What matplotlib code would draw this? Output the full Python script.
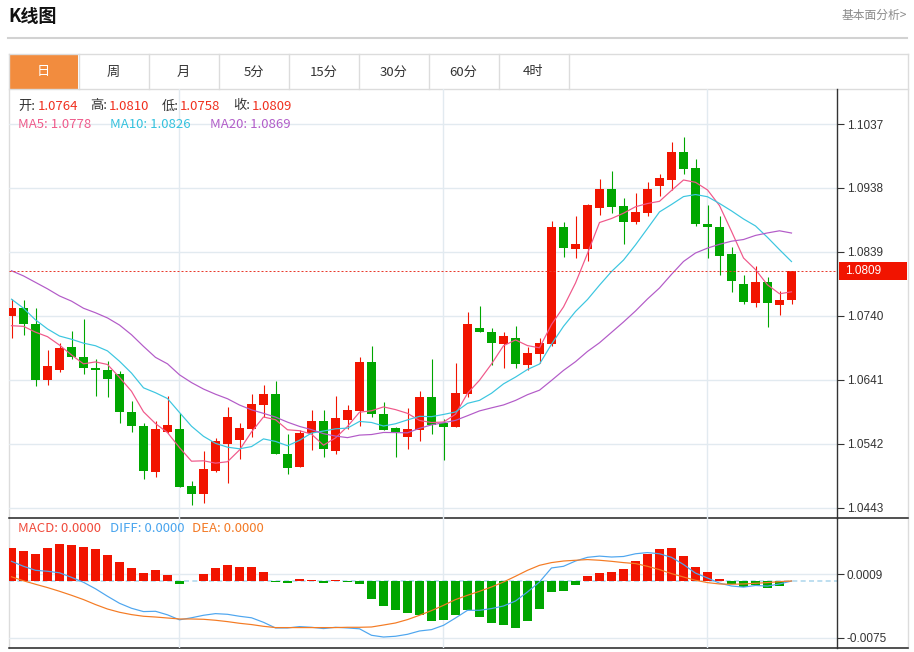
import matplotlib
matplotlib.use('Agg')
import matplotlib.pyplot as plt
import numpy as np
import pandas as pd
from matplotlib.patches import Rectangle

plt.rcParams['font.family'] = ['Noto Sans CJK SC', 'DejaVu Sans']

# ---------------- data ----------------
opens = [1.0740, 1.0752, 1.0727, 1.0641, 1.0656, 1.0692, 1.0677, 1.0660, 1.0657, 1.0650,
         1.0592, 1.0570, 1.0499, 1.0561, 1.0565, 1.0477, 1.0465, 1.0501, 1.0542, 1.0548,
         1.0565, 1.0603, 1.0619, 1.0526, 1.0506, 1.0559, 1.0577, 1.0531, 1.0579, 1.0593,
         1.0669, 1.0589, 1.0566, 1.0553, 1.0563, 1.0614, 1.0574, 1.0568, 1.0620, 1.0721,
         1.0715, 1.0697, 1.0706, 1.0664, 1.0681, 1.0697, 1.0878, 1.0844, 1.0844, 1.0907,
         1.0936, 1.0910, 1.0886, 1.0899, 1.0941, 1.0951, 1.0993, 1.0969, 1.0883, 1.0877,
         1.0836, 1.0790, 1.0760, 1.0793, 1.0757, 1.0764]
highs = [1.0766, 1.0765, 1.0752, 1.0687, 1.0698, 1.0717, 1.0736, 1.0673, 1.0671, 1.0655,
         1.0609, 1.0574, 1.0578, 1.0616, 1.0590, 1.0485, 1.0531, 1.0551, 1.0600, 1.0574,
         1.0619, 1.0634, 1.0640, 1.0558, 1.0563, 1.0595, 1.0594, 1.0616, 1.0602, 1.0677,
         1.0694, 1.0607, 1.0568, 1.0597, 1.0624, 1.0674, 1.0580, 1.0667, 1.0746, 1.0755,
         1.0721, 1.0715, 1.0725, 1.0692, 1.0706, 1.0887, 1.0885, 1.0895, 1.0913, 1.0952,
         1.0965, 1.0922, 1.0930, 1.0948, 1.0959, 1.1009, 1.1017, 1.0983, 1.0912, 1.0895,
         1.0847, 1.0803, 1.0817, 1.0800, 1.0778, 1.0810]
lows = [1.0706, 1.0711, 1.0631, 1.0633, 1.0654, 1.0674, 1.0650, 1.0616, 1.0614, 1.0575,
        1.0561, 1.0488, 1.0491, 1.0559, 1.0475, 1.0448, 1.0451, 1.0499, 1.0482, 1.0519,
        1.0553, 1.0583, 1.0526, 1.0495, 1.0506, 1.0532, 1.0522, 1.0527, 1.0565, 1.0570,
        1.0583, 1.0564, 1.0522, 1.0535, 1.0547, 1.0557, 1.0517, 1.0568, 1.0614, 1.0715,
        1.0664, 1.0659, 1.0660, 1.0656, 1.0668, 1.0693, 1.0832, 1.0830, 1.0825, 1.0897,
        1.0899, 1.0852, 1.0882, 1.0895, 1.0925, 1.0935, 1.0960, 1.0879, 1.0829, 1.0804,
        1.0777, 1.0758, 1.0754, 1.0723, 1.0741, 1.0758]
closes = [1.0753, 1.0728, 1.0641, 1.0662, 1.0691, 1.0677, 1.0659, 1.0656, 1.0642, 1.0591,
          1.0570, 1.0500, 1.0565, 1.0572, 1.0475, 1.0465, 1.0503, 1.0547, 1.0583, 1.0566,
          1.0604, 1.0619, 1.0526, 1.0505, 1.0559, 1.0577, 1.0534, 1.0582, 1.0594, 1.0669,
          1.0588, 1.0564, 1.0561, 1.0565, 1.0614, 1.0572, 1.0568, 1.0621, 1.0727, 1.0715,
          1.0698, 1.0709, 1.0666, 1.0683, 1.0698, 1.0878, 1.0845, 1.0851, 1.0912, 1.0937,
          1.0909, 1.0886, 1.0901, 1.0937, 1.0954, 1.0993, 1.0967, 1.0883, 1.0878, 1.0833,
          1.0794, 1.0761, 1.0793, 1.0760, 1.0764, 1.0809]

# moving-average values visible at the left edge (their windows start before the chart)
ma5_head = [1.0725, 1.0724, 1.0715, 1.0708]
ma10_head = [1.0766, 1.0752, 1.0734, 1.0720, 1.0709, 1.0704, 1.0698, 1.0694, 1.0686]
ma20_head = [1.0810, 1.0802, 1.0792, 1.0782, 1.0771, 1.0763, 1.0752, 1.0745, 1.0737, 1.0726,
             1.0711, 1.0693, 1.0676, 1.0666, 1.0649, 1.0637, 1.0627, 1.0619, 1.0612]

macd = [0.00435, 0.00395, 0.00355, 0.00435, 0.00492, 0.00478, 0.00452, 0.00421, 0.00351, 0.00249,
        0.00174, 0.00107, 0.00143, 0.00077, -0.00033, -0.00002, 0.00094, 0.00170, 0.00209, 0.00187,
        0.00192, 0.00121, -0.00012, -0.00025, 0.00024, 0.00011, -0.00029, 0.00011, -0.00007, -0.00042,
        -0.00232, -0.00330, -0.00383, -0.00427, -0.00444, -0.00523, -0.00515, -0.00444, -0.00387, -0.00476,
        -0.00550, -0.00586, -0.00616, -0.00523, -0.00374, -0.00139, -0.00131, -0.00046, 0.00064, 0.00113,
        0.00117, 0.00166, 0.00262, 0.00364, 0.00421, 0.00435, 0.00333, 0.00192, 0.00126, 0.00024,
        -0.00042, -0.00082, -0.00056, -0.00091, -0.00060, 0.0]
diff = [0.00262, 0.00196, 0.00143, 0.00130, 0.00110, 0.00050, -0.00016, -0.00102, -0.00201, -0.00294,
        -0.00360, -0.00404, -0.00400, -0.00447, -0.00513, -0.00486, -0.00453, -0.00431, -0.00440, -0.00466,
        -0.00486, -0.00546, -0.00621, -0.00621, -0.00603, -0.00612, -0.00629, -0.00612, -0.00621, -0.00632,
        -0.00718, -0.00741, -0.00731, -0.00705, -0.00661, -0.00643, -0.00586, -0.00489, -0.00387, -0.00387,
        -0.00364, -0.00330, -0.00264, -0.00144, -0.00012, 0.00174, 0.00196, 0.00266, 0.00315, 0.00331,
        0.00319, 0.00326, 0.00362, 0.00378, 0.00362, 0.00315, 0.00220, 0.00106, 0.00041, -0.00027,
        -0.00065, -0.00080, -0.00058, -0.00066, -0.00038, 0.00001]
dea = [0.00057, 0.00004, -0.00042, -0.00086, -0.00135, -0.00188, -0.00245, -0.00311, -0.00370, -0.00413,
       -0.00444, -0.00466, -0.00476, -0.00489, -0.00502, -0.00502, -0.00506, -0.00519, -0.00537, -0.00559,
       -0.00576, -0.00599, -0.00616, -0.00616, -0.00616, -0.00616, -0.00616, -0.00616, -0.00612, -0.00612,
       -0.00608, -0.00582, -0.00555, -0.00510, -0.00453, -0.00391, -0.00321, -0.00245, -0.00188, -0.00135,
       -0.00078, -0.00012, 0.00064, 0.00143, 0.00209, 0.00245, 0.00266, 0.00276, 0.00285, 0.00276,
       0.00262, 0.00245, 0.00232, 0.00196, 0.00152, 0.00099, 0.00054, 0.00011, -0.00020, -0.00038,
       -0.00042, -0.00038, -0.00029, -0.00020, -0.00007, 0.00001]

price_ticks = [1.1037, 1.0938, 1.0839, 1.0740, 1.0641, 1.0542, 1.0443]
macd_ticks = [0.0009, -0.0075]
last_price = 1.0809
tabs = ['日', '周', '月', '5分', '15分', '30分', '60分', '4时']
ohlc_labels = [('开:', '1.0764'), ('高:', '1.0810'), ('低:', '1.0758'), ('收:', '1.0809')]
ma_labels = [('MA5: 1.0778', '#ef5b8b'), ('MA10: 1.0826', '#35c2de'), ('MA20: 1.0869', '#b25ec9')]
macd_labels = [('MACD: 0.0000', '#f04b3c'), ('DIFF: 0.0000', '#4aa5ee'), ('DEA: 0.0000', '#f37a26')]

# ---------------- derived ----------------
n = len(closes)
idx = np.arange(n)
cs = pd.Series(closes)
ma5 = list(ma5_head) + list(cs.rolling(5).mean().values[len(ma5_head):])
ma10 = list(ma10_head) + list(cs.rolling(10).mean().values[len(ma10_head):])
ma20 = list(ma20_head) + list(cs.rolling(20).mean().values[len(ma20_head):])

RED = '#f11400'
GREEN = '#00a600'
GRID = '#e2eaf0'
DARK = '#333333'
PX = 0.72  # 1 pixel in points

W, H = 914, 652
fig = plt.figure(figsize=(W / 100, H / 100), dpi=100)
fig.patch.set_facecolor('white')

bg = fig.add_axes([0, 0, 1, 1], zorder=0)
bg.set_xlim(0, W)
bg.set_ylim(H, 0)
bg.axis('off')

# overlay for texts that sit on top of the plot panels
top = fig.add_axes([0, 0, 1, 1], zorder=10)
top.set_xlim(0, W)
top.set_ylim(H, 0)
top.axis('off')
top.patch.set_alpha(0)

# header
bg.text(8, 17, 'K线图', fontsize=13, fontweight='bold', color='#111111', va='center', ha='left')
bg.text(907, 15, '基本面分析>', fontsize=8.5, color='#8a8a8a', va='center', ha='right')
bg.plot([8, 907], [37.5, 37.5], color='#d2d2d2', lw=1.5)

# tab bar + frame
LIGHT = '#dcdcdc'
bg.plot([8.5, 907.5], [53.5, 53.5], color=LIGHT, lw=1)
bg.plot([8.5, 907.5], [89, 89], color=LIGHT, lw=1)
bg.plot([8.5, 8.5], [53.5, 648], color=LIGHT, lw=1)
bg.plot([907.5, 907.5], [53.5, 648], color=LIGHT, lw=1)
bg.add_patch(Rectangle((9, 54.3), 69.3, 34.4, facecolor='#f28c3e', edgecolor='none'))
for k, t in enumerate(tabs):
    cx = 43.5 + 70 * k
    bg.text(cx, 72, t, fontsize=9.5, color='white' if k == 0 else '#333333',
            ha='center', va='center')
    xd = 78.5 + 70 * k
    bg.plot([xd, xd], [53.5, 89], color=LIGHT, lw=1)

# dark panel separators
bg.plot([8.5, 907.5], [518, 518], color='#222222', lw=1.1)
bg.plot([8.5, 907.5], [648, 648], color='#222222', lw=1.1)

# ---------------- price panel ----------------
def panel(t, b, left=9, right=837):
    return fig.add_axes([left / W, 1 - b / H, (right - left) / W, (b - t) / H], zorder=2)

ax = panel(89, 518)
ax.patch.set_alpha(0)
s = (508 - 124) / (price_ticks[0] - price_ticks[-1])
ax.set_ylim(price_ticks[-1] - (518 - 508) / s, price_ticks[0] + (124 - 89) / s)
xl = ((9 - 11.5) / 12, (837 - 11.5) / 12)
ax.set_xlim(*xl)

for sp in ['top', 'left', 'bottom']:
    ax.spines[sp].set_visible(False)
ax.spines['right'].set_color(DARK)
ax.spines['right'].set_linewidth(1)
ax.set_xticks([])
ax.yaxis.tick_right()
ax.set_yticks(price_ticks)
ax.set_yticklabels([f'{v:.4f}' for v in price_ticks], fontfamily='Liberation Sans')
ax.tick_params(axis='y', direction='out', length=5, width=0.8, color=DARK,
               labelsize=8.5, labelcolor=DARK, pad=2)
ax.grid(axis='y', color=GRID, lw=1)
vgrid = [(179 - 11.5) / 12, (443 - 11.5) / 12, (707 - 11.5) / 12]
for g in vgrid:
    ax.axvline(g, color=GRID, lw=1, zorder=0)

onepx = 1 / s
for i in idx:
    o, h, l, c = opens[i], highs[i], lows[i], closes[i]
    col = RED if c >= o else GREEN
    ax.vlines(i, l, h, color=col, lw=PX * 1.1, zorder=3)
    b = min(o, c)
    hgt = abs(c - o)
    if hgt < onepx:
        b = (o + c) / 2 - onepx / 2
        hgt = onepx
    ax.bar(i, hgt, bottom=b, width=0.75, color=col, edgecolor='none', zorder=4)

ax.plot(idx, ma5, color='#f0588a', lw=PX * 1.2, zorder=5)
ax.plot(idx, ma10, color='#3cc6e0', lw=PX * 1.2, zorder=5)
ax.plot(idx, ma20, color='#b35bc8', lw=PX * 1.2, zorder=5)
ax.axhline(last_price, color='#e83a2c', lw=PX, ls=(0, (2, 2)), zorder=6)

# current price label
yl = 124 + (price_ticks[0] - last_price) * s
top.add_patch(Rectangle((839, yl - 9), 68, 18, facecolor=RED, edgecolor='none'))
top.text(845, yl, f'{last_price:.4f}', fontsize=8.5, color='white', va='center', ha='left',
         fontfamily='Liberation Sans')

# info text
xs_lab = [18, 90, 162, 233]
xs_val = [38, 109, 180, 252]
for (lab, val), xa, xb in zip(ohlc_labels, xs_lab, xs_val):
    top.text(xa, 106, lab, fontsize=9.5, color='#333333', va='center', ha='left')
    top.text(xb, 106, val, fontsize=9.5, color='#f0301e', va='center', ha='left')
for (txt, col), xa in zip(ma_labels, [18, 110, 210]):
    top.text(xa, 124, txt, fontsize=9.5, color=col, va='center', ha='left')

# ---------------- MACD panel ----------------
ax2 = panel(518, 648)
ax2.patch.set_alpha(0)
s2 = (637.7 - 574.3) / (macd_ticks[0] - macd_ticks[1])
ax2.set_ylim(macd_ticks[1] - (648 - 637.7) / s2, macd_ticks[0] + (574.3 - 518) / s2)
ax2.set_xlim(*xl)
for sp in ['top', 'left', 'bottom']:
    ax2.spines[sp].set_visible(False)
ax2.spines['right'].set_color(DARK)
ax2.spines['right'].set_linewidth(1)
ax2.set_xticks([])
ax2.yaxis.tick_right()
ax2.set_yticks(macd_ticks)
ax2.set_yticklabels([f'{v:.4f}' for v in macd_ticks], fontfamily='Liberation Sans')
ax2.tick_params(axis='y', direction='out', length=5, width=0.8, color=DARK,
                labelsize=8.5, labelcolor=DARK, pad=2)
ax2.grid(axis='y', color=GRID, lw=1)
for g in vgrid:
    ax2.axvline(g, color=GRID, lw=1, zorder=0)
ax2.axhline(0, color='#b3d9ee', lw=1.2, ls=(0, (3, 2)), zorder=1)

mcol = [RED if v >= 0 else GREEN for v in macd]
ax2.bar(idx, macd, width=0.75, color=mcol, edgecolor='none', zorder=3)
ax2.plot(idx, diff, color='#4ea6ef', lw=PX * 1.2, zorder=4)
ax2.plot(idx, dea, color='#f47b24', lw=PX * 1.2, zorder=4)

for (txt, col), xa in zip(macd_labels, [18, 110, 192]):
    top.text(xa, 529, txt, fontsize=9.5, color=col, va='center', ha='left')

fig.savefig('out.png', dpi=100, facecolor='white')
